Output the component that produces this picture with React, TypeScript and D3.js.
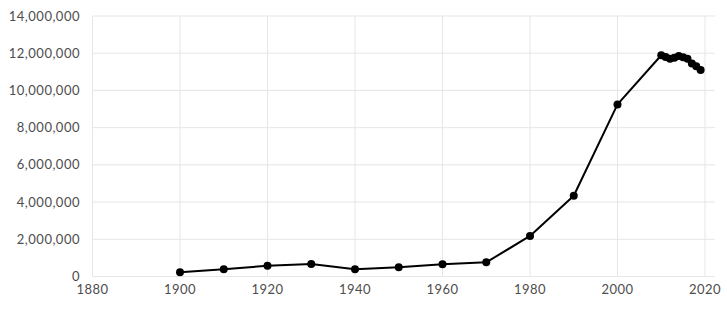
import React from "react";
import * as d3 from "d3";

const years = [1900, 1910, 1920, 1930, 1940, 1950, 1960, 1970, 1980, 1990, 2000,
  2010, 2011, 2012, 2013, 2014, 2015, 2016, 2017, 2018, 2019];
const values = [230000, 390000, 580000, 670000, 390000, 500000, 660000, 760000, 2180000, 4340000, 9250000,
  11890000, 11800000, 11700000, 11760000, 11850000, 11780000, 11700000, 11450000, 11300000, 11100000];
const xTicks = [1880, 1900, 1920, 1940, 1960, 1980, 2000, 2020];
const yTicks = [0, 2000000, 4000000, 6000000, 8000000, 10000000, 12000000, 14000000];

const W = 727;
const H = 313;
const left = 92.5;
const right = 715;
const top = 16;
const bottom = 276.5;

const App = () => {
  const x = d3.scaleLinear().domain([1880, 2020]).range([left, 705]);
  const y = d3.scaleLinear().domain([0, 14000000]).range([bottom, top]);
  const fmt = d3.format(",");
  const pts = years.map((yr, i) => [yr, values[i]] as [number, number]);
  const line = d3.line<[number, number]>().x(d => x(d[0])).y(d => y(d[1]));

  return (
    <svg width={W} height={H} style={{ position: "absolute", left: 0, top: 0 }}
      fontFamily="Lato, sans-serif">
      <g stroke="#e6e6e6" strokeWidth={1}>
        {yTicks.map(t => (
          <line key={"h" + t} x1={left} x2={right} y1={y(t)} y2={y(t)} />
        ))}
        {xTicks.map(t => (
          <line key={"v" + t} x1={x(t)} x2={x(t)} y1={top} y2={bottom} />
        ))}
      </g>
      <g fill="#4d4d4d" fontSize={13} letterSpacing={0.5}>
        {yTicks.map(t => (
          <text key={"yl" + t} x={80} y={y(t)} dy="0.35em" textAnchor="end">{fmt(t)}</text>
        ))}
        {xTicks.map(t => (
          <text key={"xl" + t} x={x(t)} y={294} textAnchor="middle">{t}</text>
        ))}
      </g>
      <path d={line(pts) || ""} fill="none" stroke="#000" strokeWidth={2} strokeLinejoin="round" />
      <g fill="#000">
        {pts.map(d => (
          <circle key={d[0]} cx={x(d[0])} cy={y(d[1])} r={4} />
        ))}
      </g>
    </svg>
  );
};

export default App;
